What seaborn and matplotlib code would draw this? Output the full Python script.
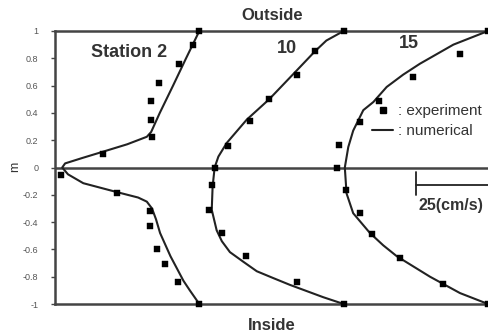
import numpy as np
import pandas as pd
import matplotlib
matplotlib.use("Agg")
import matplotlib.pyplot as plt
from matplotlib.lines import Line2D
import seaborn as sns

# Channel stations and the wall position each profile is hung from (cm/s offset)
stations = ["Station 2", "10", "15"]
baselines = [50, 100, 150]

# Numerical velocity profiles: transverse position and velocity (cm/s)
num_y_2 = [-1.0, -0.90, -0.83, -0.65, -0.48, -0.38, -0.30, -0.25, -0.22, -0.18, -0.115,
           -0.05, 0.0, 0.03, 0.07, 0.115, 0.17, 0.225, 0.26, 0.40, 0.60, 0.80, 1.0]
num_u_2 = [0, 3.3, 5.5, 10.0, 13.6, 15.0, 16.4, 18.2, 21.2, 28.6, 40.2,
           45.5, 47.5, 46.5, 40.5, 33.5, 25.0, 18.2, 16.7, 13.7, 9.1, 4.6, 0]
num_y_10 = [-1.0, -0.95, -0.86, -0.81, -0.76, -0.69, -0.62, -0.54, -0.46, -0.31, -0.14,
            0.0, 0.08, 0.18, 0.35, 0.50, 0.71, 0.85, 0.93, 1.0]
num_u_10 = [0, 7.1, 18.6, 24.4, 30.1, 34.8, 39.4, 42.2, 44.0, 45.7, 45.4,
            44.7, 43.4, 40.5, 33.6, 25.8, 16.3, 10.0, 6.0, 0]
num_y_15 = [-1.0, -0.92, -0.80, -0.65, -0.57, -0.48, -0.335, -0.19, 0.0, 0.15, 0.27,
            0.42, 0.48, 0.59, 0.68, 0.76, 0.90, 1.0]
num_u_15 = [0, 9.7, 20.1, 31.6, 36.3, 40.9, 46.7, 49.0, 49.6, 48.4, 46.7,
            43.2, 39.7, 35.1, 29.4, 23.6, 12.0, 0]

# Measured velocities
exp_y_2 = [1.0, 0.90, 0.76, 0.62, 0.49, 0.35, 0.22, 0.10, -0.055, -0.19, -0.32,
           -0.43, -0.60, -0.71, -0.84, -1.0]
exp_u_2 = [0, 2.3, 6.9, 14.0, 16.9, 16.9, 16.5, 33.5, 47.8, 28.6, 17.1,
           17.1, 14.6, 11.9, 7.3, 0]
exp_y_10 = [1.0, 0.85, 0.68, 0.50, 0.34, 0.157, 0.0, -0.13, -0.31, -0.48, -0.65, -0.84, -1.0]
exp_u_10 = [0, 9.9, 16.1, 25.8, 32.5, 40.0, 44.4, 45.7, 46.5, 42.0, 34.0, 16.1, 0]
exp_y_15 = [1.0, 0.83, 0.66, 0.49, 0.33, 0.165, 0.0, -0.165, -0.33, -0.49, -0.665, -0.85, -1.0]
exp_u_15 = [0, 9.7, 25.9, 37.7, 44.4, 51.5, 52.2, 49.2, 44.4, 40.3, 30.5, 15.5, 0]

y_ticks = [-1, -0.8, -0.6, -0.4, -0.2, 0, 0.2, 0.4, 0.6, 0.8, 1]
y_tick_labels = ["-1", "-0.8", "-0.6", "-0.4", "-0.2", "0", "0.2", "0.4", "0.6", "0.8", "1"]
scale_len = 25  # cm/s

num_sets = [(num_y_2, num_u_2), (num_y_10, num_u_10), (num_y_15, num_u_15)]
exp_sets = [(exp_y_2, exp_u_2), (exp_y_10, exp_u_10), (exp_y_15, exp_u_15)]


def build(sets):
    frames = []
    for name, base, (ys, us) in zip(stations, baselines, sets):
        frames.append(pd.DataFrame({
            "station": name,
            "y": ys,
            "x": [base - u for u in us],
        }))
    return pd.concat(frames, ignore_index=True)


curves = build(num_sets)
points = build(exp_sets)

sns.set_style("white")
plt.rcParams["font.family"] = ["Liberation Sans", "DejaVu Sans"]

W, H = 488, 336
fig = plt.figure(figsize=(W / 100, H / 100), dpi=100)
ax = fig.add_axes([55 / W, (H - 304) / H, (488 - 55) / W, (304 - 31) / H])

ink = "#222222"
frame = "#444444"

ax.axhline(0, color=frame, lw=1.8, zorder=1)

sns.lineplot(data=curves, x="x", y="y", units="station", estimator=None, sort=False,
             color=ink, lw=1.5, ax=ax, legend=False, zorder=3)
sns.scatterplot(data=points, x="x", y="y", marker="s", s=20, color="black",
                edgecolor="black", linewidth=0.3, ax=ax, legend=False, zorder=4,
                clip_on=False)

ax.set_xlim(0, 150)
ax.set_ylim(-1, 1)
ax.set_xticks([])
ax.set_yticks(y_ticks)
ax.set_yticklabels(y_tick_labels, fontsize=6.5, color="#555555")
ax.tick_params(axis="y", direction="out", length=3, width=1, color=frame, pad=9, left=True)
ax.set_xlabel("")
ax.set_ylabel("")

for side in ["top", "bottom", "left"]:
    ax.spines[side].set_visible(True)
    ax.spines[side].set_color(frame)
    ax.spines[side].set_linewidth(1.8)
ax.spines["right"].set_visible(False)

# Station labels
label_pos = [(25.6, 0.84), (80.4, 0.875), (122.6, 0.905)]
for name, (lx, ly) in zip(stations, label_pos):
    ax.text(lx, ly, name, fontsize=13, fontweight="bold", color="#333333",
            ha="center", va="center")

# Scale bar
bar_right = baselines[-1]
bar_left = bar_right - scale_len
ax.plot([bar_left, bar_right], [-0.128, -0.128], color=ink, lw=1.3, clip_on=False)
ax.plot([bar_left, bar_left], [-0.033, -0.20], color=ink, lw=1.3)
ax.text(bar_left + 1, -0.275, f"{scale_len}(cm/s)", fontsize=11.5, fontweight="bold",
        color="#333333", ha="left", va="center")

# Legend
handles = [
    Line2D([], [], marker="s", ls="none", color="black", markersize=4),
    Line2D([], [], ls="-", color=ink, lw=1.5),
]
leg = ax.legend(handles, [": experiment", ": numerical"], loc="upper left",
                bbox_to_anchor=((372 - 55) / (488 - 55), (304 - 104) / (304 - 31)),
                frameon=False, fontsize=11, handlelength=1.4, handletextpad=0.3,
                labelspacing=0.4, borderpad=0, borderaxespad=0)
for t in leg.get_texts():
    t.set_color("#333333")

fig.text(272 / W, 1 - 16 / H, "Outside", fontsize=12, fontweight="bold",
         color="#333333", ha="center", va="center")
fig.text(272 / W, 1 - 326 / H, "Inside", fontsize=12, fontweight="bold",
         color="#333333", ha="center", va="center")
fig.text(15 / W, 1 - 167 / H, "m", fontsize=9, color="#333333", rotation=90,
         ha="center", va="center")

fig.savefig("out.png", dpi=100, facecolor="white")
